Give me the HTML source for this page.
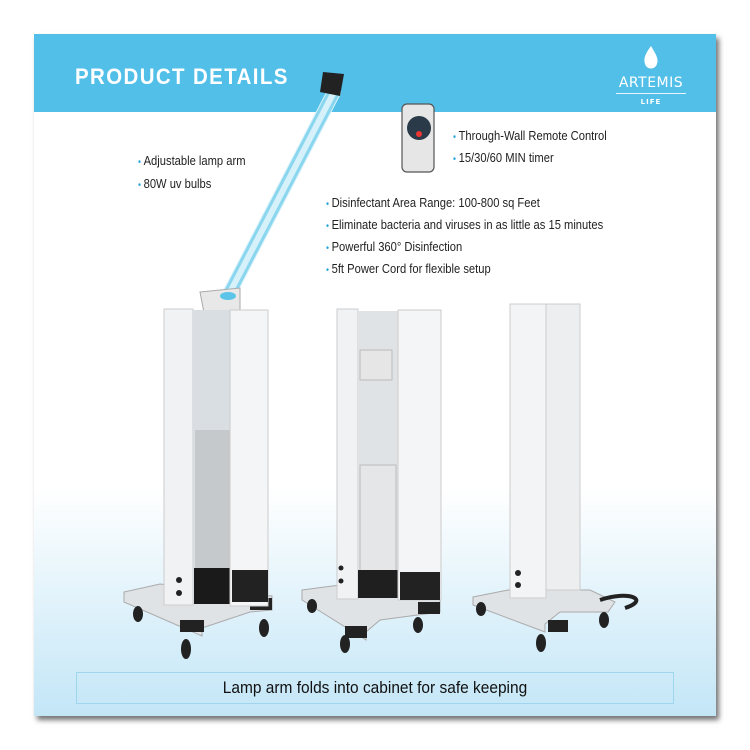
<!DOCTYPE html>
<html><head><meta charset="utf-8"><style>
html,body{margin:0;padding:0;background:#fff;width:750px;height:750px;overflow:hidden}
.card{position:absolute;left:34px;top:34px;width:682px;height:682px;background:linear-gradient(#fff 0,#fff 455px,#c3e6f7 682px);box-shadow:3px 4px 5px rgba(0,0,0,.55)}
.hdr{position:absolute;left:0;top:0;width:682px;height:78px;background:#52bfe8}
.t{position:absolute;font-family:"Liberation Sans",sans-serif;font-size:13px;color:#222;white-space:nowrap;transform:scaleX(0.86);transform-origin:0 0}
.t b{color:#2ba6dc;font-weight:normal;font-size:10px;margin-right:3px}
</style></head><body>
<div class="card">
<div class="hdr"></div>
<div style="position:absolute;left:41px;top:30px;font-family:'Liberation Sans',sans-serif;font-weight:bold;font-size:22px;letter-spacing:1.5px;color:#fff;transform:scaleX(0.93);transform-origin:0 0">PRODUCT DETAILS</div>
<div style="position:absolute;left:582px;top:41px;width:70px;text-align:center;font-family:'DejaVu Sans',sans-serif;color:#fff;font-size:14px;letter-spacing:0.5px">ARTEMIS</div>
<div style="position:absolute;left:582px;top:59px;width:70px;height:1px;background:#e8f6fc"></div>
<div style="position:absolute;left:582px;top:64px;width:70px;text-align:center;font-family:'DejaVu Sans',sans-serif;color:#fff;font-size:7px;font-weight:bold;letter-spacing:1px">LIFE</div>
<div style="position:absolute;border:1px solid #9fd6ee;left:42px;top:638px;width:596px;height:30px"></div>
<div style="position:absolute;left:42px;top:638px;width:598px;height:32px;line-height:32px;text-align:center;font-family:'Liberation Sans',sans-serif;font-size:17px;color:#111;transform:scaleX(0.91)">Lamp arm folds into cabinet for safe keeping</div>
</div>
<div class="t" style="left:138px;top:153px"><b>•</b>Adjustable lamp arm</div>
<div class="t" style="left:138px;top:176px"><b>•</b>80W uv bulbs</div>
<div class="t" style="left:453px;top:128px"><b>•</b>Through-Wall Remote Control</div>
<div class="t" style="left:453px;top:150px"><b>•</b>15/30/60 MIN timer</div>
<div class="t" style="left:326px;top:195px"><b>•</b>Disinfectant Area Range: 100-800 sq Feet</div>
<div class="t" style="left:326px;top:217px"><b>•</b>Eliminate bacteria and viruses in as little as 15 minutes</div>
<div class="t" style="left:326px;top:239px"><b>•</b>Powerful 360° Disinfection</div>
<div class="t" style="left:326px;top:261px"><b>•</b>5ft Power Cord for flexible setup</div>
<svg width="750" height="750" style="position:absolute;left:0;top:0">
<path d="M651 46 C646 53 643 58 645 64 C647 70 655 70 657 64 C659 58 655 53 651 46 Z" fill="#fff"/>
<rect x="402" y="104" width="32" height="68" rx="5" fill="#e6e6e6" stroke="#555" stroke-width="1.2"/>
<circle cx="419" cy="128" r="12" fill="#2a3a48"/>
<circle cx="419" cy="134" r="3" fill="#e33"/>
<line x1="227" y1="298" x2="334" y2="92" stroke="#d6f1fa" stroke-width="14" stroke-linecap="round"/>
<line x1="223" y1="296" x2="330" y2="90" stroke="#8ad6ef" stroke-width="3"/>
<line x1="231" y1="300" x2="338" y2="94" stroke="#8ad6ef" stroke-width="3"/>
<polygon points="323,72 344,74 340,96 320,92" fill="#222"/>
<polygon points="200,292 240,288 240,312 205,318" fill="#e8e8e8" stroke="#aaa"/>
<ellipse cx="228" cy="296" rx="8" ry="4" fill="#5cc4e8"/>
<polygon points="124,592 160,584 272,596 272,610 250,612 202,628 202,636 124,602" fill="#e0e3e6" stroke="#aaa"/>
<rect x="180" y="620" width="24" height="12" fill="#222"/><rect x="250" y="598" width="22" height="12" fill="#222"/>
<ellipse cx="138" cy="614" rx="5" ry="8" fill="#222"/><ellipse cx="186" cy="649" rx="5" ry="10" fill="#222"/><ellipse cx="264" cy="628" rx="5" ry="9" fill="#222"/>
<rect x="164" y="309" width="29" height="296" fill="#f1f2f3" stroke="#ccc"/>
<rect x="193" y="310" width="37" height="290" fill="#d9dee2"/>
<rect x="195" y="430" width="35" height="140" fill="#c5c9cc"/>
<rect x="194" y="568" width="36" height="36" fill="#1a1a1a"/>
<rect x="230" y="310" width="38" height="296" fill="#f4f5f6" stroke="#ccc"/>
<rect x="232" y="570" width="36" height="32" fill="#222"/>
<circle cx="179" cy="580" r="3" fill="#222"/><circle cx="179" cy="593" r="3" fill="#222"/>
<polygon points="302,590 340,585 440,590 440,612 380,620 366,632 366,640 302,600" fill="#e0e3e6" stroke="#aaa"/>
<rect x="345" y="626" width="22" height="12" fill="#222"/><rect x="418" y="602" width="22" height="12" fill="#222"/>
<ellipse cx="312" cy="606" rx="5" ry="7" fill="#222"/><ellipse cx="345" cy="644" rx="5" ry="9" fill="#222"/><ellipse cx="418" cy="625" rx="5" ry="8" fill="#222"/>
<rect x="337" y="309" width="21" height="290" fill="#f1f2f3" stroke="#ccc"/>
<rect x="358" y="311" width="40" height="285" fill="#dfe3e6"/>
<rect x="360" y="350" width="32" height="30" fill="#e6e6e6" stroke="#bbb"/>
<rect x="360" y="465" width="36" height="110" fill="#e4e6e8" stroke="#bbb"/>
<rect x="358" y="570" width="40" height="28" fill="#1f1f1f"/>
<rect x="398" y="310" width="43" height="290" fill="#f4f5f6" stroke="#ccc"/>
<rect x="400" y="572" width="40" height="28" fill="#222"/>
<circle cx="341" cy="568" r="2.5" fill="#222"/><circle cx="341" cy="581" r="2.5" fill="#222"/>
<polygon points="473,597 508,590 590,590 615,602 608,612 560,612 545,624 545,632 473,605" fill="#e0e3e6" stroke="#aaa"/>
<rect x="548" y="620" width="20" height="12" fill="#222"/>
<ellipse cx="481" cy="609" rx="5" ry="7" fill="#222"/><ellipse cx="541" cy="643" rx="5" ry="9" fill="#222"/><ellipse cx="604" cy="620" rx="5" ry="8" fill="#222"/>
<path d="M600 600 C630 590 650 600 625 608" stroke="#222" stroke-width="4" fill="none"/>
<rect x="510" y="304" width="36" height="294" fill="#f3f4f5" stroke="#ccc"/>
<rect x="546" y="304" width="34" height="286" fill="#eceef0" stroke="#ccc"/>
<circle cx="518" cy="573" r="3" fill="#222"/><circle cx="518" cy="585" r="3" fill="#222"/>
</svg>
</body></html>
